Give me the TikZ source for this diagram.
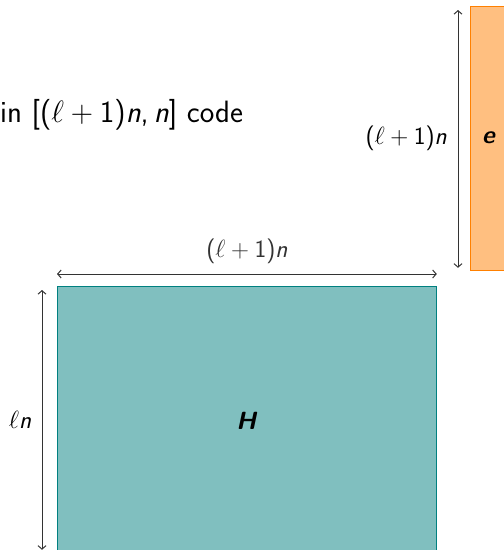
\documentclass[tikz,border=0pt]{standalone}
\usepackage{graphicx}
\usepackage{fontspec}
\usetikzlibrary{arrows.meta}
\renewcommand{\familydefault}{\sfdefault}
\newcommand{\Lpn}{(\ensuremath{\ell+\mbox{1}})\textit{n}}
\tikzset{
  x=1pt, y=-1pt,
  every node/.style={font=\fontsize{24.88}{30}\selectfont\sffamily, inner sep=0pt},
  dimline/.style={{Straight Barb[length=3.5pt,width=8pt]}-{Straight Barb[length=3.5pt,width=8pt]}, line width=1pt, black!80},
  hbox/.style={draw=teal, fill=teal!50, line width=0.8pt},
  ebox/.style={draw=orange, fill=orange!50, line width=0.8pt},
}
\begin{document}
\begin{tikzpicture}
\useasboundingbox (0,0) rectangle (504,550);
\node[hbox, minimum width=379pt, minimum height=266pt, anchor=north west] (H) at (57,286) {};
\node at (247,421) (Hl) {\textbf{\textit{H}}};
\node[ebox, minimum width=60pt, minimum height=264pt, anchor=north west] (E) at (470,6) {};
\node at (489,138) (El) {\textbf{\textit{e}}};
\node[anchor=base west] (code) at (0,122) {\scalebox{1.24}{in [\Lpn,\,\textit{n}] code}};
\coordinate (ht1) at ([yshift=12pt]H.north west);
\coordinate (ht2) at ([yshift=12pt]H.north east);
\draw[dimline] (ht1) -- (ht2) node[midway, above=10pt] (toplab) {\Lpn};
\coordinate (hl1) at ([xshift=-15pt, yshift=-4pt]H.north west);
\coordinate (hl2) at ([xshift=-15pt, yshift=3pt]H.south west);
\draw[dimline] (hl1) -- (hl2);
\node at (20,420) (lnlab) {\ensuremath{\ell}\textit{n}};
\coordinate (e1) at ([xshift=-12pt, yshift=-4pt]E.north west);
\coordinate (e2) at ([xshift=-12pt, yshift=3pt]E.south west);
\draw[dimline] (e1) -- (e2);
\node[anchor=east] (elab) at (447,138) {\Lpn};
\end{tikzpicture}
\end{document}
